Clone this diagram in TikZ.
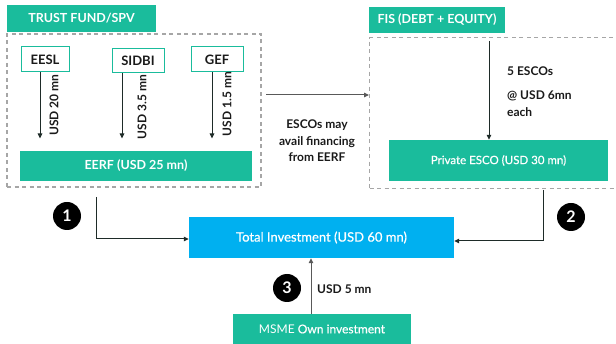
\documentclass[tikz,border=0pt]{standalone}
\usepackage{fontspec}
\setmainfont{Lato}
\newfontfamily\latomed{Lato}[FakeBold=0.6]
\usetikzlibrary{arrows.meta}
\definecolor{tealA}{HTML}{1ABC9C}
\definecolor{blueA}{HTML}{00B0F0}
\definecolor{dashA}{HTML}{A6A6A6}
\definecolor{arrA}{HTML}{1E2B28}
\definecolor{grayA}{HTML}{595959}
\definecolor{txtA}{HTML}{1A1A1A}
\begin{document}
\begin{tikzpicture}[x=1pt,y=-1pt,
  tealbox/.style={fill=tealA, text=white, inner sep=0pt, font=\fontsize{12.5}{14}\selectfont\bfseries},
  srcbox/.style={fill=white, draw=tealA, line width=1pt, inner sep=0pt, text=txtA, font=\fontsize{13}{15}\selectfont\bfseries},
  dashbox/.style={draw=dashA, line width=1.1pt, dash pattern=on 4pt off 3.5pt, inner sep=0pt},
  darrow/.style={draw=arrA, line width=1pt, -{Triangle[length=5pt,width=4.5pt]}},
  garrow/.style={draw=grayA, line width=1pt, -{Triangle[length=5pt,width=4.5pt]}},
  lbl/.style={text=txtA, font=\fontsize{12}{16.5}\selectfont\bfseries, inner sep=0pt},
  numc/.style={circle, fill=black, text=white, minimum size=28pt, inner sep=0pt, font=\fontsize{16}{16}\selectfont\bfseries}
]
\useasboundingbox (0,0) rectangle (616,344);

% left group
\node[tealbox, minimum width=149pt, minimum height=27pt] (tf) at (81.5,18.5) {TRUST FUND/SPV};
\node[dashbox, minimum width=254pt, minimum height=153pt] (ldash) at (134,110.5) {};
\node[srcbox, minimum width=48pt, minimum height=25pt] (eesl) at (45,59.5) {EESL};
\node[srcbox, minimum width=52pt, minimum height=24pt] (sidbi) at (138,61) {SIDBI};
\node[srcbox, minimum width=52pt, minimum height=25pt] (gef) at (217,59.5) {GEF};
\node[tealbox, minimum width=232pt, minimum height=30pt] (eerf) at (136,166) {EERF (USD 25 mn)};
\draw[darrow] ([xshift=-5pt]eesl.south) -- ++(0,66);
\draw[darrow] ([xshift=-16pt]sidbi.south) -- ++(0,65);
\draw[darrow] ([xshift=-5pt]gef.south) -- ++(0,66);
\node[lbl, rotate=90] (l1) at (54,105) {USD 20 mn};
\node[lbl, rotate=90] (l2) at (142,107) {USD 3.5 mn};
\node[lbl, rotate=90] (l3) at (227,104) {USD 1.5 mn};

% right group
\node[tealbox, minimum width=136pt, minimum height=26pt] (fis) at (437,20) {FIS (DEBT + EQUITY)};
\begin{scope}
\clip (0,0) rectangle (616,344);
\node[dashbox, minimum width=260pt, minimum height=151pt, anchor=north west] (rdash) at (369,37) {};
\end{scope}
\node[tealbox, minimum width=219pt, minimum height=41pt, font=\fontsize{11.5}{13}\selectfont\latomed] (pesco) at (498.5,160.5) {Private ESCO (USD 30 mn)};
\draw[darrow] (489,41) coordinate (fa) -- (pesco.north -| fa);
\node[lbl, anchor=west] (e1) at (507,71) {5 ESCOs};
\node[lbl, anchor=west, align=left] (e2) at (507,103.5) {@ USD 6mn\\each};

% middle link
\coordinate (la) at (266,95);
\draw[garrow] (la) -- (rdash.west |- la);
\node[lbl, align=center] (avail) at (317,141) {ESCOs may\\avail financing\\from EERF};

% total
\node[fill=blueA, text=white, inner sep=0pt, minimum width=265pt, minimum height=41pt, font=\fontsize{13}{15}\selectfont\latomed] (tot) at (321.5,237.5) {Total Investment (USD 60 mn)};
\coordinate (s1) at (96,197);
\draw[darrow] (s1) |- ([yshift=-1.5pt]tot.west);
\coordinate (s2) at (543,190);
\draw[darrow] (s2) |- ([yshift=-3.5pt]tot.east);
\node[numc] (c1) at (67,216) {1};
\node[numc] (c2) at (571,217) {2};
\node[numc] (c3) at (287,288) {3};

\node[tealbox, minimum width=178pt, minimum height=30pt, font=\fontsize{12}{14}\selectfont] (msme) at (322,329) {MSME {\latomed Own investment}};
\draw[garrow] ([xshift=-11pt]msme.north) coordinate (ma) -- (tot.south -| ma);
\node[lbl, anchor=west] (u5) at (317,289) {USD 5 mn};
\end{tikzpicture}
\end{document}
